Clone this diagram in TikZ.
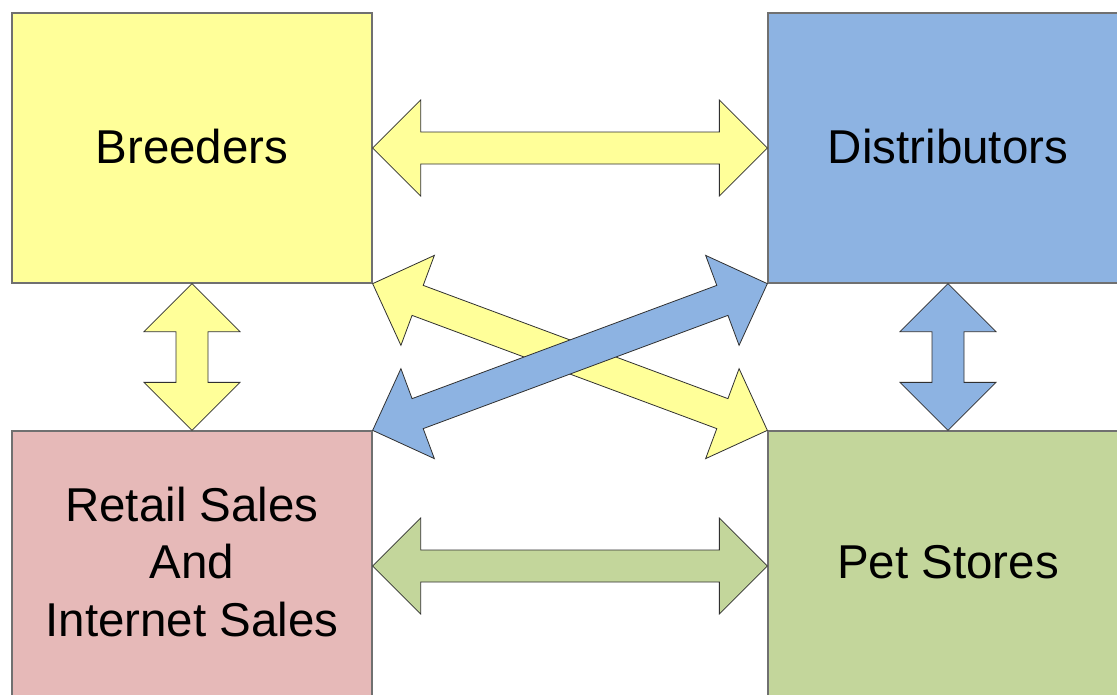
\documentclass[tikz,border=0pt]{standalone}
\usepackage{fontspec}
\setmainfont{Liberation Sans}
\usetikzlibrary{calc}
\definecolor{yel}{HTML}{FFFF99}
\definecolor{blu}{HTML}{8DB3E2}
\definecolor{pnk}{HTML}{E6B9B8}
\definecolor{grn}{HTML}{C3D69B}
\definecolor{boxline}{HTML}{707070}
\definecolor{arrline}{HTML}{303030}
\tikzset{
  box/.style={draw=boxline, line width=1.3pt, minimum width=360pt, minimum height=270pt,
    inner sep=0pt},
  lbl/.style={inner sep=0pt, align=center, font=\fontsize{47.5}{57.5}\selectfont},
  fatarr/.style={draw=arrline, line width=0.8pt, line join=miter},
}
% double block arrow from node anchor #1 to node anchor #2, filled with #3
\newcommand\fatarrow[3]{%
  \draw[fatarr, fill=#3]
    (#1)
    -- ($(#1)!48pt!(#2)!48pt!90:(#2)$)
    -- ($(#1)!48pt!(#2)!16pt!90:(#2)$)
    -- ($(#2)!48pt!(#1)!16pt!-90:(#1)$)
    -- ($(#2)!48pt!(#1)!48pt!-90:(#1)$)
    -- (#2)
    -- ($(#2)!48pt!(#1)!48pt!90:(#1)$)
    -- ($(#2)!48pt!(#1)!16pt!90:(#1)$)
    -- ($(#1)!48pt!(#2)!16pt!-90:(#2)$)
    -- ($(#1)!48pt!(#2)!48pt!-90:(#2)$)
    -- cycle;}
\begin{document}
\begin{tikzpicture}[x=1pt,y=-1pt]
\useasboundingbox (0,0) rectangle (1117,694);
\node[box, fill=yel] (B) at (192,148) {};
\node[box, fill=blu] (D) at (948,148) {};
\node[box, fill=pnk] (R) at (192,566) {};
\node[box, fill=grn] (P) at (948,566) {};
\node[lbl] (Bt) at ($(B.center)+(0,-1)$) {Breeders};
\node[lbl] (Dt) at ($(D.center)+(0,-1)$) {Distributors};
\node[lbl] (Rt) at ($(R.center)+(0,-4)$) {Retail Sales\\And\\Internet Sales};
\node[lbl] (Pt) at ($(P.center)+(0,-4)$) {Pet Stores};
\fatarrow{B.east}{D.west}{yel}
\fatarrow{B.south}{R.north}{yel}
\fatarrow{D.south}{P.north}{blu}
\fatarrow{R.east}{P.west}{grn}
\fatarrow{B.south east}{P.north west}{yel}
\fatarrow{D.south west}{R.north east}{blu}
\end{tikzpicture}
\end{document}
